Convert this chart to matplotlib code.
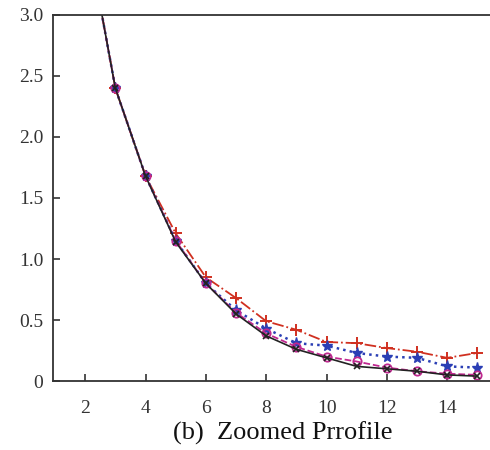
import matplotlib.pyplot as plt
from matplotlib.ticker import FuncFormatter

x = [2, 3, 4, 5, 6, 7, 8, 9, 10, 11, 12, 13, 14, 15]
black = [3.75, 2.40, 1.68, 1.14, 0.80, 0.55, 0.37, 0.26, 0.19, 0.12, 0.10, 0.08, 0.05, 0.04]
magenta = [3.75, 2.40, 1.68, 1.15, 0.80, 0.56, 0.39, 0.28, 0.20, 0.16, 0.11, 0.08, 0.06, 0.05]
blue = [3.75, 2.40, 1.68, 1.15, 0.80, 0.58, 0.43, 0.31, 0.29, 0.23, 0.20, 0.19, 0.12, 0.11]
red = [3.75, 2.40, 1.68, 1.21, 0.85, 0.68, 0.49, 0.42, 0.32, 0.31, 0.27, 0.24, 0.19, 0.23]

plt.rcParams['font.family'] = ['Liberation Serif', 'DejaVu Serif']

fig = plt.figure(figsize=(4.9, 4.5), dpi=100)
ax = fig.add_axes([0.108, 0.1533, 0.897, 0.8134])

ax.plot(x, red, color='#d03020', ls='-.', lw=1.3, marker='+', ms=8, mew=1.4, markevery=slice(1, None))
ax.plot(x, blue, color='#2b3fb5', ls=':', lw=1.8, marker='*', ms=8, markevery=slice(1, None))
ax.plot(x, magenta, color='#c02890', ls='--', lw=1.3, marker='o', ms=6, mfc='none', mew=1.3, markevery=slice(1, None))
ax.plot(x, black, color='#222222', ls='-', lw=1.2, marker='x', ms=5, mew=1.2, markevery=slice(1, None))

ax.set_xlim(0.93, 15.5)
ax.set_ylim(0, 3.0)
ax.set_xticks([2, 4, 6, 8, 10, 12, 14])
ax.set_yticks([0, 0.5, 1.0, 1.5, 2.0, 2.5, 3.0])
ax.yaxis.set_major_formatter(FuncFormatter(lambda v, p: '0' if v == 0 else '%.1f' % v))
ax.tick_params(direction='in', length=5, width=1.2, labelsize=14, colors='#333333', pad=7)
ax.tick_params(axis='x', pad=14)
for s in ['left', 'bottom', 'top']:
    ax.spines[s].set_linewidth(1.3)
    ax.spines[s].set_color('#333333')
ax.spines['right'].set_visible(False)

fig.text(0.577, 0.037, '(b)  Zoomed Prrofile', ha='center', va='center', fontsize=19, color='#111111')

fig.savefig('out.png', dpi=100)
